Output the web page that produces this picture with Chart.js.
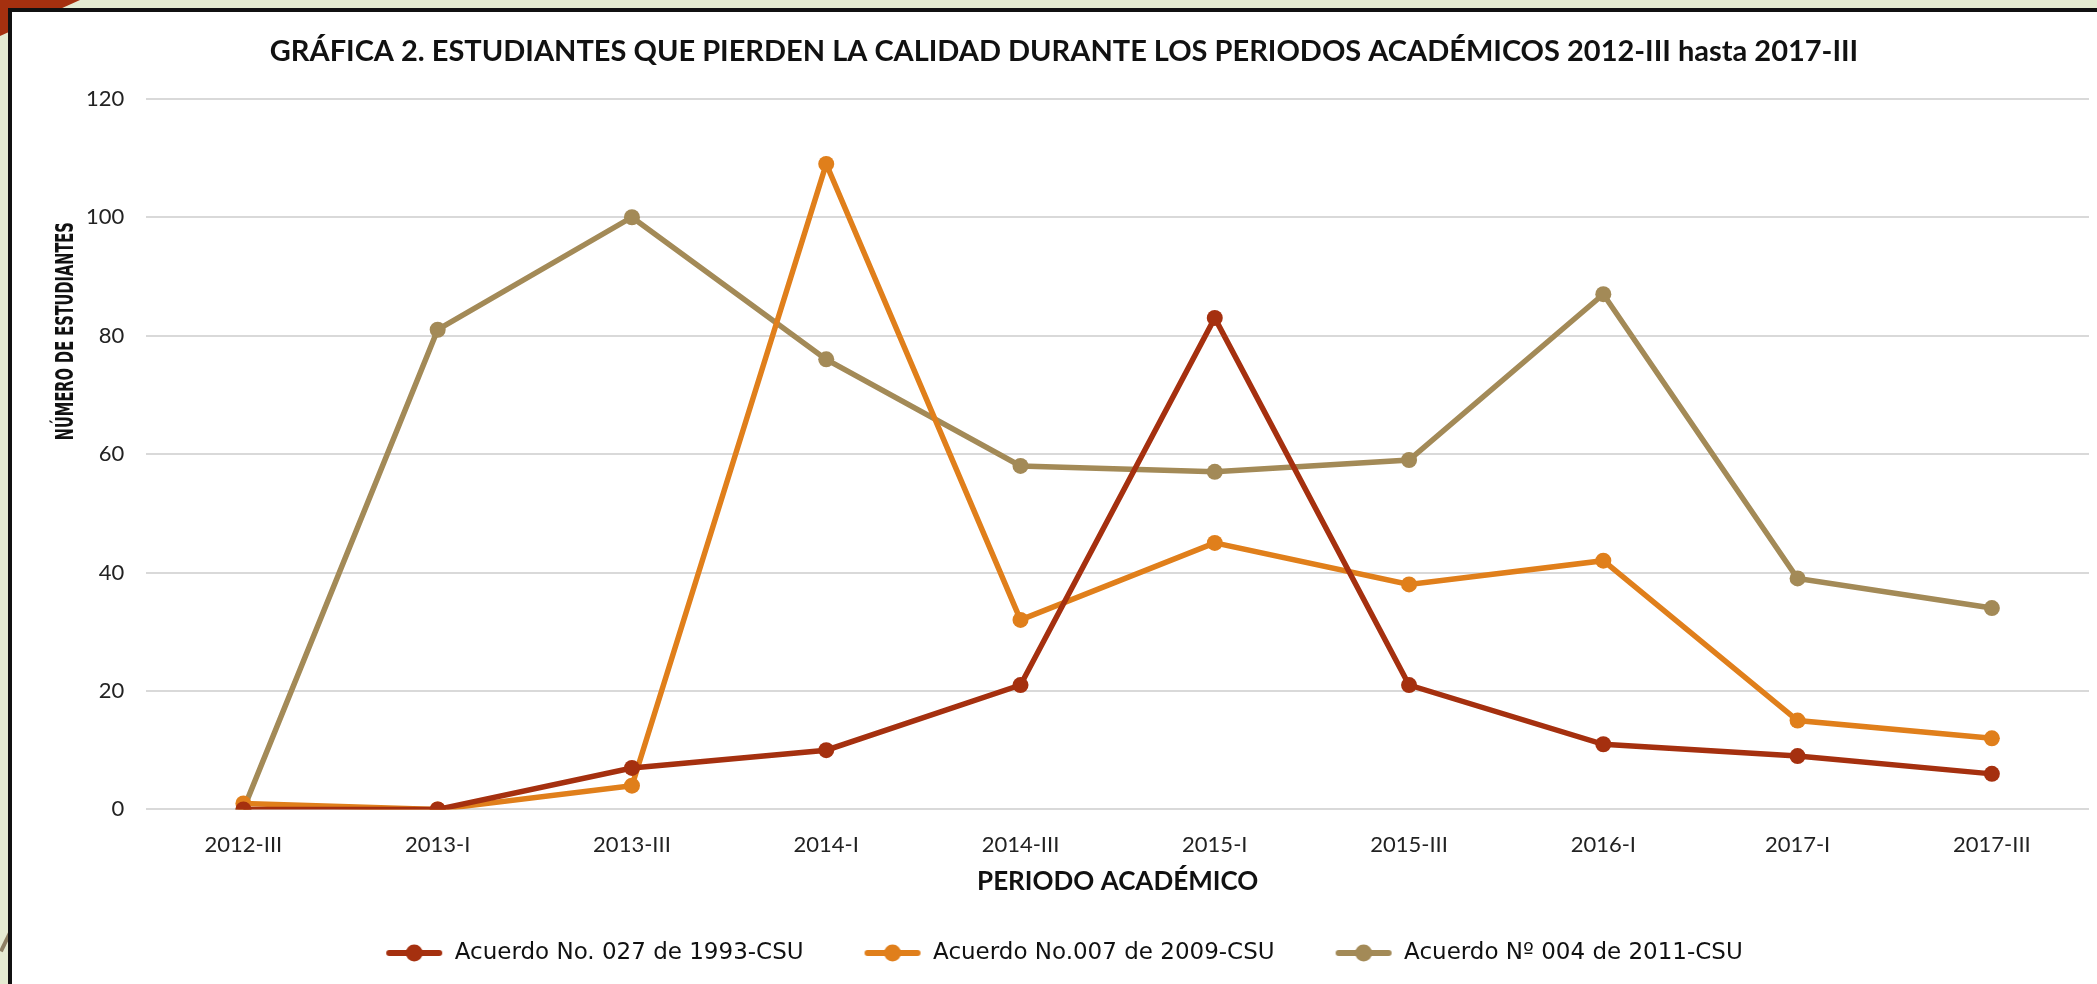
<!DOCTYPE html>
<html>
<head>
<meta charset="utf-8">
<script src="https://cdn.jsdelivr.net/npm/chart.js@4/dist/chart.umd.min.js"></script>
<style>
  html, body { margin: 0; padding: 0; }
  body { width: 2097px; height: 984px; overflow: hidden; background: #e5ebd1; position: relative; }
  .corner { position: absolute; left: 0; top: 0; width: 80px; height: 36px; background: #a5300f; clip-path: polygon(0 0, 100% 0, 0 100%); }
  .deco1 { position: absolute; left: -20px; top: 600px; width: 110px; height: 3px; background: #c9c4a8; transform: rotate(-62deg); }
  .deco2 { position: absolute; left: -30px; top: 900px; width: 110px; height: 4px; background: #8c7f62; transform: rotate(-64deg); }
  .box { position: absolute; left: 8px; top: 8px; width: 2100px; height: 990px; background: #fff; border: 4px solid #111; }
  .wrap { position: absolute; left: 12px; top: 12px; width: 2085px; height: 972px; }
</style>
</head>
<body>
<div class="corner"></div>
<div class="deco1"></div>
<div class="deco2"></div>
<div class="box"></div>
<div class="wrap"><canvas id="lineChart"></canvas></div>
<script>
const periodos = ['2012-III', '2013-I', '2013-III', '2014-I', '2014-III', '2015-I', '2015-III', '2016-I', '2017-I', '2017-III'];
const acuerdo1993 = [0, 0, 7, 10, 21, 83, 21, 11, 9, 6];
const acuerdo2009 = [1, 0, 4, 109, 32, 45, 38, 42, 15, 12];
const acuerdo2011 = [0, 81, 100, 76, 58, 57, 59, 87, 39, 34];
const nombres = ['Acuerdo No. 027 de 1993-CSU', 'Acuerdo No.007 de 2009-CSU', 'Acuerdo N\u00ba 004 de 2011-CSU'];
const colores = ['#a5300f', '#e07f1b', '#a38a57'];

const baseFont = "'Lato', 'DejaVu Sans', sans-serif";
const legendFont = "'DejaVu Sans', sans-serif";
const yTitle = 'NÚMERO DE ESTUDIANTES';

// y title sits above the middle of the axis and is condensed in the original,
// so it is drawn here squeezed, a third of the way down the plot
const yTitlePlugin = {
  id: 'yTitle',
  afterDraw(chart) {
    const { ctx, chartArea } = chart;
    const cy = chartArea.top + (chartArea.bottom - chartArea.top) * 0.327;
    ctx.save();
    ctx.font = "bold 24px 'DejaVu Sans', sans-serif";
    const squeeze = 218 / ctx.measureText(yTitle).width;
    ctx.translate(55, cy);
    ctx.rotate(-Math.PI / 2);
    ctx.scale(squeeze, 1);
    ctx.fillStyle = '#111';
    ctx.textAlign = 'center';
    ctx.textBaseline = 'middle';
    ctx.fillText(yTitle, 0, 0);
    ctx.restore();
  }
};

// legend marker: short line with a dot in the middle
function legendMark(color) {
  const c = document.createElement('canvas');
  c.width = 58; c.height = 20;
  const g = c.getContext('2d');
  g.strokeStyle = color; g.lineWidth = 6; g.lineCap = 'round';
  g.beginPath(); g.moveTo(4, 10); g.lineTo(54, 10); g.stroke();
  g.fillStyle = color;
  g.beginPath(); g.arc(29, 10, 8.5, 0, Math.PI * 2); g.fill();
  return c;
}
const marks = colores.map(legendMark);

const series = [acuerdo1993, acuerdo2009, acuerdo2011];
const datasets = series.map((vals, i) => ({
  label: nombres[i],
  data: vals,
  borderColor: colores[i],
  backgroundColor: colores[i],
  borderWidth: 5.5,
  pointRadius: 8,
  pointHoverRadius: 8,
  pointBorderWidth: 0,
  pointStyle: 'circle',
  tension: 0
}));

const ctx = document.getElementById('lineChart').getContext('2d');
new Chart(ctx, {
  type: 'line',
  data: { labels: periodos, datasets: datasets },
  plugins: [yTitlePlugin],
  options: {
    responsive: true,
    maintainAspectRatio: false,
    animation: false,
    layout: { padding: { left: 26, right: 7, top: 0, bottom: 9.5 } },
    plugins: {
      title: {
        display: true,
        text: 'GRÁFICA 2. ESTUDIANTES QUE PIERDEN LA CALIDAD DURANTE LOS PERIODOS ACADÉMICOS 2012-III hasta 2017-III',
        color: '#111',
        font: { family: baseFont, size: 29, weight: 'bold' },
        padding: { top: 22, bottom: 30 }
      },
      legend: {
        position: 'bottom',
        labels: {
          color: '#111',
          font: { family: legendFont, size: 23 },
          usePointStyle: true,
          pointStyleWidth: 58,
          padding: 60,
          generateLabels: (chart) => chart.data.datasets.map((ds, i) => ({
            text: ds.label,
            fillStyle: ds.borderColor,
            strokeStyle: ds.borderColor,
            lineWidth: 0,
            pointStyle: marks[i],
            datasetIndex: i,
            fontColor: '#111'
          }))
        }
      },
      tooltip: { enabled: false }
    },
    scales: {
      x: {
        offset: true,
        grid: { display: false, drawTicks: false },
        border: { display: false },
        ticks: { color: '#222', font: { family: baseFont, size: 22 }, padding: 22.5 },
        title: {
          display: true,
          text: 'PERIODO ACADÉMICO',
          color: '#111',
          font: { family: baseFont, size: 26, weight: 'bold' },
          padding: { top: -14.5, bottom: -16 }
        }
      },
      y: {
        min: 0,
        max: 120,
        afterFit: (scale) => { scale.width += 26; },
        ticks: { stepSize: 20, color: '#222', font: { family: baseFont, size: 22 }, padding: 22 },
        grid: { color: '#d9d9d9', lineWidth: 2, drawTicks: false },
        border: { display: false },
        title: { display: false }
      }
    }
  }
});
</script>
</body>
</html>
